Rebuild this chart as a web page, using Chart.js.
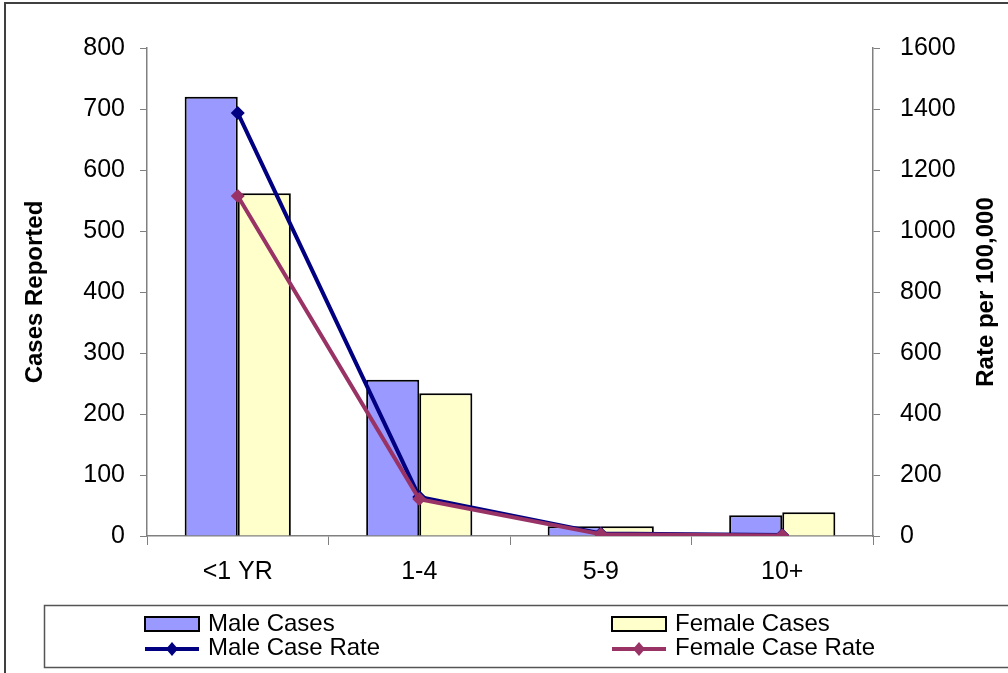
<!DOCTYPE html>
<html>
<head>
<meta charset="utf-8">
<script src="https://cdn.jsdelivr.net/npm/chart.js@4/dist/chart.umd.min.js"></script>
<style>
  html, body { margin: 0; padding: 0; background: #fff; }
  #wrap { width: 1008px; height: 673px; position: relative; }
</style>
</head>
<body>
<div id="wrap"><canvas id="myChart" width="1008" height="673"></canvas></div>
<script>
// age groups and values
var ageGroups = ['<1 YR', '1-4', '5-9', '10+'];
var maleCases = [720, 256, 16, 34];
var femaleCases = [562, 234, 16, 39];
var maleRate = [1387, 128, 8, 3];
var femaleRate = [1115, 121, 6, 2];

var leftTicks = [0, 100, 200, 300, 400, 500, 600, 700, 800];
var rightTicks = [0, 200, 400, 600, 800, 1000, 1200, 1400, 1600];

Chart.defaults.font.family = '"Liberation Sans", Arial, sans-serif';
Chart.defaults.font.size = 25;
Chart.defaults.color = '#000';

// frame, legend box and the right axis title (reads bottom to top)
var decor = {
    id: 'decor',
    afterDraw: function (chart) {
        var ctx = chart.ctx;
        ctx.save();
        ctx.strokeStyle = '#404040';
        ctx.lineWidth = 2;
        ctx.beginPath();
        ctx.moveTo(5, 673);
        ctx.lineTo(5, 3);
        ctx.lineTo(1008, 3);
        ctx.stroke();

        // legend box
        ctx.lineWidth = 1.5;
        ctx.strokeStyle = '#555';
        ctx.strokeRect(44.5, 605.5, 1000, 62);

        var items = [
            { ds: 2, x: 145, y: 624, type: 'bar', text: 'Male Cases' },
            { ds: 3, x: 612, y: 624, type: 'bar', text: 'Female Cases' },
            { ds: 1, x: 145, y: 648, type: 'line', text: 'Male Case Rate' },
            { ds: 0, x: 612, y: 648, type: 'line', text: 'Female Case Rate' }
        ];
        ctx.font = '24px "Liberation Sans", Arial, sans-serif';
        ctx.textBaseline = 'middle';
        items.forEach(function (it) {
            var d = chart.data.datasets[it.ds];
            var w = 54;
            if (it.type === 'bar') {
                ctx.fillStyle = d.backgroundColor;
                ctx.fillRect(it.x, it.y - 7, w, 14);
                ctx.lineWidth = 2;
                ctx.strokeStyle = '#000';
                ctx.strokeRect(it.x, it.y - 7, w, 14);
            } else {
                ctx.strokeStyle = d.borderColor;
                ctx.lineWidth = 4;
                ctx.beginPath();
                ctx.moveTo(it.x, it.y + 1);
                ctx.lineTo(it.x + w, it.y + 1);
                ctx.stroke();
                var cx = it.x + w / 2;
                ctx.fillStyle = d.borderColor;
                ctx.beginPath();
                ctx.moveTo(cx, it.y - 6);
                ctx.lineTo(cx + 6, it.y + 1);
                ctx.lineTo(cx, it.y + 8);
                ctx.lineTo(cx - 6, it.y + 1);
                ctx.closePath();
                ctx.fill();
            }
            ctx.fillStyle = '#000';
            ctx.textAlign = 'left';
            ctx.fillText(it.text, it.x + w + 9, it.y);
        });

        // right title
        var ca = chart.chartArea;
        ctx.translate(986, (ca.top + ca.bottom) / 2);
        ctx.rotate(-Math.PI / 2);
        ctx.font = 'bold 24px "Liberation Sans", Arial, sans-serif';
        ctx.textAlign = 'center';
        ctx.fillText('Rate per 100,000', 0, 0);
        ctx.restore();
    }
};

var ctx = document.getElementById('myChart').getContext('2d');
var chart = new Chart(ctx, {
    type: 'bar',
    data: {
        labels: ageGroups,
        datasets: [{
            type: 'line',
            label: 'Female Case Rate',
            data: femaleRate,
            yAxisID: 'y1',
            borderColor: '#993366',
            backgroundColor: '#993366',
            borderWidth: 4,
            pointStyle: 'rectRot',
            pointRadius: 7,
            pointBackgroundColor: '#993366',
            pointBorderWidth: 0,
            tension: 0,
            order: 0
        }, {
            type: 'line',
            label: 'Male Case Rate',
            data: maleRate,
            yAxisID: 'y1',
            borderColor: '#000080',
            backgroundColor: '#000080',
            borderWidth: 4,
            pointStyle: 'rectRot',
            pointRadius: 7,
            pointBackgroundColor: '#000080',
            pointBorderWidth: 0,
            tension: 0,
            order: 1
        }, {
            label: 'Male Cases',
            data: maleCases,
            yAxisID: 'y',
            backgroundColor: '#9999FF',
            borderColor: '#000',
            borderWidth: 2,
            borderSkipped: 'bottom',
            categoryPercentage: 0.585,
            barPercentage: 1,
            order: 2
        }, {
            label: 'Female Cases',
            data: femaleCases,
            yAxisID: 'y',
            backgroundColor: '#FFFFCC',
            borderColor: '#000',
            borderWidth: 2,
            borderSkipped: 'bottom',
            categoryPercentage: 0.585,
            barPercentage: 1,
            order: 2
        }]
    },
    options: {
        responsive: false,
        animation: false,
        layout: { padding: { left: 17, top: 48, right: 0, bottom: 67 } },
        plugins: {
            legend: { display: false },
            tooltip: { enabled: false }
        },
        scales: {
            x: {
                grid: { drawOnChartArea: false, offset: true, tickLength: 9, color: '#808080' },
                border: { color: '#808080', width: 1.5 },
                ticks: { padding: 12 },
                afterFit: function (s) { s.height = 70; }
            },
            y: {
                position: 'left',
                min: 0,
                max: 800,
                afterBuildTicks: function (s) { s.ticks = leftTicks.map(function (v) { return { value: v }; }); },
                grid: { drawOnChartArea: false, tickLength: 7, color: '#808080' },
                border: { color: '#808080', width: 1.5 },
                ticks: { padding: 15 },
                title: {
                    display: true,
                    text: 'Cases Reported',
                    font: { size: 24, weight: 'bold' },
                    padding: 4
                },
                afterFit: function (s) { s.width = 130; }
            },
            y1: {
                position: 'right',
                min: 0,
                max: 1600,
                afterBuildTicks: function (s) { s.ticks = rightTicks.map(function (v) { return { value: v }; }); },
                grid: { drawOnChartArea: false, tickLength: 7, color: '#808080' },
                border: { color: '#808080', width: 1.5 },
                ticks: {
                    padding: 20,
                    callback: function (v) { return String(v); }
                },
                afterFit: function (s) { s.width = 135; }
            }
        }
    },
    plugins: [decor]
});
</script>
</body>
</html>
